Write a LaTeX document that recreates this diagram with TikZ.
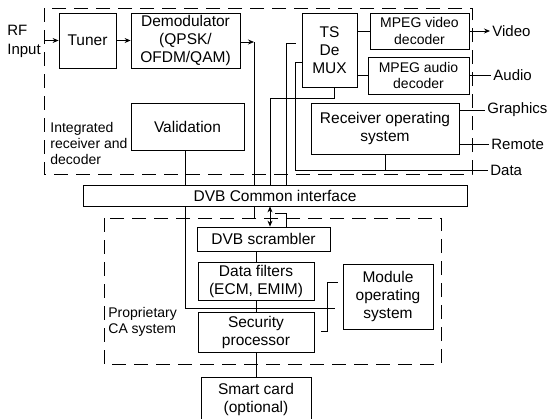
\documentclass[tikz,border=0pt]{standalone}
\usepackage{fontspec}
\setmainfont{Liberation Sans}
\usepackage{tikz}
\usetikzlibrary{arrows.meta}

\begin{document}
\begin{tikzpicture}[x=1pt, y=-1pt, line width=0.8pt,
    blk/.style={draw, align=center, inner sep=0pt, font=\fontsize{15.5}{18}\selectfont},
    sblk/.style={blk, font=\fontsize{14}{16.5}\selectfont},
    lbl/.style={align=left, inner sep=2pt, anchor=west, font=\fontsize{15}{19}\selectfont},
    slbl/.style={lbl, font=\fontsize{14}{16}\selectfont},
    frame/.style={dash pattern=on 14pt off 8pt},
    >={Stealth[length=6pt, width=5pt]}]
    \useasboundingbox (0,0) rectangle (551,418);
    % --- 外框：接收解码器与 CA 模块 (dashed frames) ---
    \draw[frame] (44,8) rectangle (472,174);
    \draw[frame] (104,218) rectangle (441,364);
    % --- 上部：接收解码器中的模块 (Integrated receiver and decoder) ---
    \node[blk, minimum width=57pt, minimum height=55pt] (tuner) at (87.5,40.5) {Tuner};
    \node[blk, minimum width=109pt, minimum height=55pt] (demod) at (185.5,40.5) {Demodulator\\(QPSK/\\OFDM/QAM)};
    \node[blk, minimum width=113pt, minimum height=47pt] (valid) at (187.5,126.5) {Validation};
    \node[blk, minimum width=55pt, minimum height=74pt] (tsdemux) at (329.5,50) {TS\\De\\MUX};
    \node[sblk, minimum width=99pt, minimum height=36pt] (mpegv) at (419.5,31) {MPEG video\\decoder};
    \node[sblk, minimum width=101pt, minimum height=37pt] (mpega) at (418.5,75.5) {MPEG audio\\decoder};
    \node[blk, minimum width=148pt, minimum height=51pt] (recos) at (385,128.5) {Receiver operating\\system};
    % 公共接口 (common interface)
    \node[blk, minimum width=384pt, minimum height=21pt] (ci) at (275,195.5) {DVB Common interface};
    % --- 下部：条件接收模块 (CA module) ---
    \node[blk, minimum width=133pt, minimum height=24pt] (scram) at (263.5,239) {DVB scrambler};
    \node[blk, minimum width=116pt, minimum height=38pt] (filt) at (256,281) {Data filters\\(ECM, EMIM)};
    \node[blk, minimum width=116pt, minimum height=40pt] (secp) at (256,332) {Security\\processor};
    \node[blk, minimum width=90pt, minimum height=65pt] (modos) at (388,296.5) {Module\\operating\\system};
    \node[blk, minimum width=110pt, minimum height=44pt] (smart) at (256,399) {Smart card\\(optional)};
    % 文字标注 (labels)
    \node[lbl] (rfin) at (5,41) {RF\\Input};
    \node[slbl] (irdtxt) at (48,143) {Integrated\\receiver and\\decoder};
    \node[slbl] (catxt) at (106,321.5) {Proprietary\\CA system};
    \node[lbl] (videotxt) at (490,31) {Video};
    \node[lbl] (audiotxt) at (491,75.5) {Audio};
    \node[lbl] (gfxtxt) at (485,110) {Graphics};
    \node[lbl] (remtxt) at (489,144) {Remote};
    \node[lbl] (datatxt) at (488,170) {Data};
    % --- 连线：信号通路 (signal paths) ---
    \coordinate (rfpt) at (44,40.5);
    \coordinate (dmpt) at (254,42);
    \coordinate (vlpt) at (185,308);
    \coordinate (tsa) at (286,43);
    \coordinate (tsb) at (295,62);
    \coordinate (tsc) at (270,98);
    \coordinate (scb) at (275,213);
    \coordinate (cistub) at (254,218);
    \coordinate (mopt) at (335,308);
    \coordinate (moa) at (327,282);
    \coordinate (mob) at (327,331);
    \draw[->] (rfpt) -- (tuner.west);
    \draw[->] (tuner) -- (demod);
    \draw[->] (demod.east |- dmpt) -- (dmpt);
    \draw (dmpt) -- (dmpt |- ci.north);
    \draw (valid.south -| vlpt) -- (vlpt |- ci.north);
    % 解复用器的连线 (TS demux)
    \draw (ci.north -| tsa) -- (tsa) -- ([xshift=-6pt]tsdemux.west |- tsa);
    \draw (tsdemux.west |- tsb) -- (tsb) |- (datatxt.west);
    \draw ([xshift=4.5pt]tsdemux.south) |- (tsc) -- (tsc |- ci.north);
    \draw (tsdemux.east |- mpegv) -- (mpegv.west);
    \draw (tsdemux.east |- mpega) -- (mpega.west);
    \draw[->] (mpegv.east) -- (mpegv.east -| videotxt.west);
    \draw (mpega.east) -- (mpega.east -| audiotxt.west);
    \draw (recos.east |- gfxtxt) -- (gfxtxt.west);
    \draw (recos.east |- remtxt) -- (remtxt.west);
    \draw (recos.south) -- (recos.south |- datatxt);
    % CA 模块内部连线 (inside the CA module)
    \draw (dmpt |- ci.south) -- (cistub);
    \draw[<->] (ci.south -| tsc) -- (scram.north -| tsc);
    \draw (scb) -| (scram.north -| tsa);
    \draw (vlpt |- ci.south) -- (vlpt) -- (mopt);
    \draw (scram.south -| filt) -- (filt.north);
    \draw (filt) -- (secp);
    \draw (secp) -- (smart);
    \draw[shorten <=5pt, shorten >=7pt] (modos.west |- moa) -| (mob) -- (secp.east |- mob);
\end{tikzpicture}
\end{document}
